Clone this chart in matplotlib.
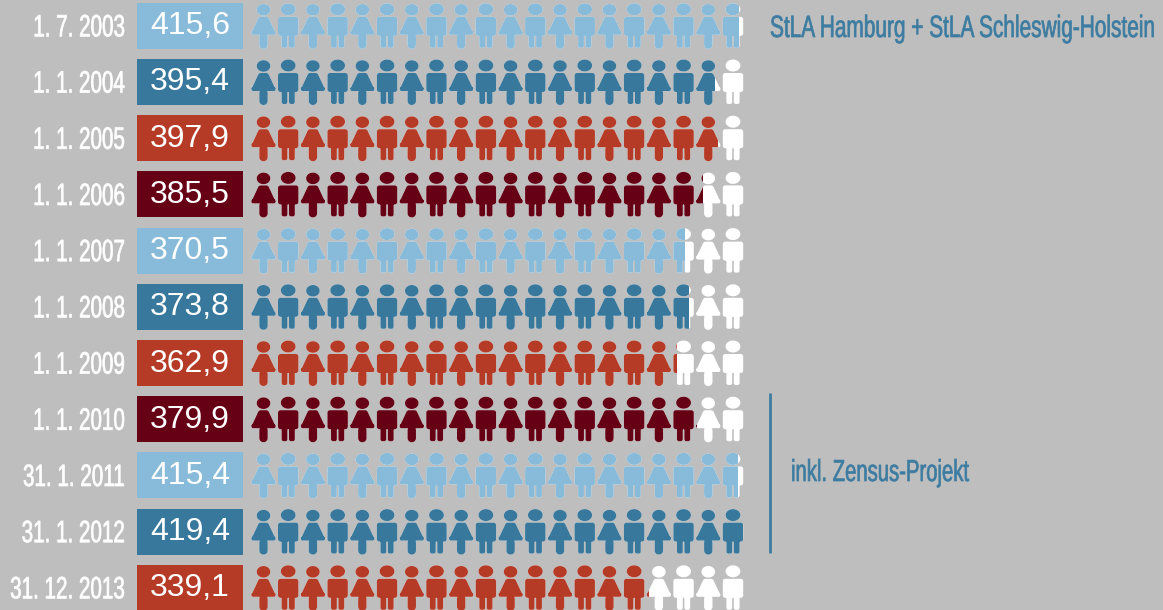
import numpy as np
import matplotlib
matplotlib.use("Agg")
import matplotlib.pyplot as plt
import matplotlib.patheffects as pe
from matplotlib.patches import PathPatch, Rectangle
from matplotlib.path import Path
from matplotlib.transforms import Affine2D

dates = ["1. 7. 2003", "1. 1. 2004", "1. 1. 2005", "1. 1. 2006", "1. 1. 2007", "1. 1. 2008",
         "1. 1. 2009", "1. 1. 2010", "31. 1. 2011", "31. 1. 2012", "31. 12. 2013"]
values = [415.6, 395.4, 397.9, 385.5, 370.5, 373.8, 362.9, 379.9, 415.4, 419.4, 339.1]
palette = ["#87BBD9", "#38789C", "#B53B27", "#660014"]
source_note = "StLA Hamburg + StLA Schleswig-Holstein"
zensus_note = "inkl. Zensus-Projekt"

BG = "#BEBEBE"
NOTE_COLOR = "#3D7CA1"
PER_ICON = 21.0
N_ICONS = 20
ICON_X0 = 263.5
ICON_DX = 24.71
FILL_X0 = 249.5
ROW_Y0 = 2.8
ROW_DY = 56.2
ROW_H = 46
COND_FONT = ["Liberation Sans Narrow", "Liberation Sans"]


# stretches text upward from its baseline, the fonts here have no really condensed face
class Tall(pe.AbstractPathEffect):
    def __init__(self, sy, stroke=0.5):
        super().__init__()
        self.sy = sy
        self.stroke = stroke

    def draw_path(self, renderer, gc, tpath, affine, rgbFace=None):
        gc0 = renderer.new_gc()
        gc0.copy_properties(gc)
        gc0.set_linewidth(self.stroke)
        gc0.set_foreground(rgbFace)
        renderer.draw_path(gc0, tpath, Affine2D().scale(1, self.sy) + affine, rgbFace)
        gc0.restore()


def same_way_round(pts):
    x, y = pts[:, 0], pts[:, 1]
    area = np.sum(x * np.roll(y, -1) - np.roll(x, -1) * y)
    return pts if area > 0 else pts[::-1]


def ellipse(cx, cy, rx, ry):
    t = np.linspace(0, 2 * np.pi, 40, endpoint=False)
    return np.column_stack([cx + rx * np.cos(t), cy + ry * np.sin(t)])


def rrect(x0, y0, x1, y1, r):
    pts = []
    corners = [(x1 - r, y1 - r, 0), (x0 + r, y1 - r, 90), (x0 + r, y0 + r, 180), (x1 - r, y0 + r, 270)]
    for cx, cy, a in corners:
        t = np.radians(np.linspace(a, a + 90, 8))
        pts.append(np.column_stack([cx + r * np.cos(t), cy + r * np.sin(t)]))
    return np.vstack(pts)


def woman(cx, top):
    parts = [
        ellipse(0, 7, 6.8, 5.8),
        rrect(-12, 28, 12, 32, 1.6),
        np.array([[-3.5, 14], [3.5, 14], [5, 15], [12, 30], [-12, 30], [-5, 15]], dtype=float),
        rrect(-4.2, 30, 4.2, 46, 4),
    ]
    return [same_way_round(p) + [cx, top] for p in parts]


def man(cx, top):
    parts = [
        ellipse(0, 6.5, 7.4, 6),
        rrect(-10.2, 14, 10.2, 33, 2.5),
        rrect(-6.6, 30, -0.8, 45, 2),
        rrect(0.8, 30, 6.6, 45, 2),
    ]
    return [same_way_round(p) + [cx, top] for p in parts]


def row_path(top):
    polys = []
    for i in range(N_ICONS):
        make = man if i % 2 else woman
        polys += make(ICON_X0 + i * ICON_DX, top)
    return Path.make_compound_path(*[Path(np.vstack([p, p[:1]]), closed=True) for p in polys])


fig = plt.figure(figsize=(11.63, 6.10), dpi=100, facecolor=BG)
ax = fig.add_axes([0, 0, 1, 1])
ax.set_xlim(0, 1163)
ax.set_ylim(610, 0)
ax.axis("off")

for r, (date, val) in enumerate(zip(dates, values)):
    top = ROW_Y0 + r * ROW_DY
    color = palette[r % 4]

    ax.barh(top + ROW_H / 2, 106, left=137, height=ROW_H, color=color, linewidth=0)
    ax.text(190, top + 31.5, f"{val:.1f}".replace(".", ","), color="white",
            family="Liberation Sans", fontsize=23, ha="center", va="baseline")
    ax.text(124.5, top + 33.6, date, color="white", family=COND_FONT, fontsize=14.85,
            ha="right", va="baseline", path_effects=[Tall(1.5)])

    path = row_path(top)
    ax.add_patch(PathPatch(path, facecolor="white", edgecolor="none", linewidth=0))
    filled = PathPatch(path, facecolor=color, edgecolor="none", linewidth=0)
    ax.add_patch(filled)
    clip_x = FILL_X0 + val / PER_ICON * ICON_DX
    clip = Rectangle((200, top - 5), clip_x - 200, ROW_H + 10, transform=ax.transData)
    filled.set_clip_path(clip)

ax.text(770, 37, source_note, color=NOTE_COLOR, family=COND_FONT, fontsize=15,
        ha="left", va="baseline", path_effects=[Tall(1.48)])
ax.plot([770, 770], [393, 553], color=NOTE_COLOR, linewidth=2, solid_capstyle="butt")
ax.text(791, 481, zensus_note, color=NOTE_COLOR, family=COND_FONT, fontsize=14.6,
        ha="left", va="baseline", path_effects=[Tall(1.5)])

fig.savefig("out.png", dpi=100, facecolor=BG)
